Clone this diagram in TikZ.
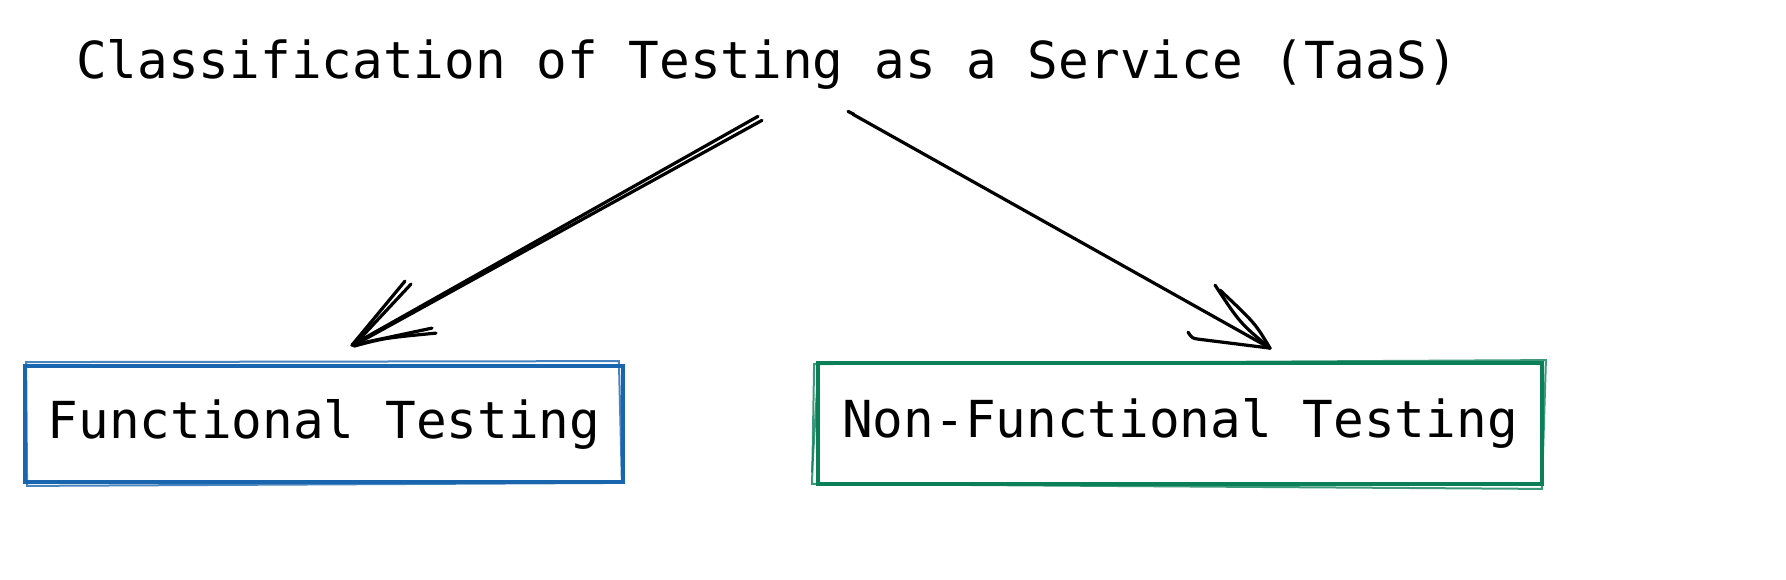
\documentclass[tikz,border=0pt]{standalone}
\usepackage{fontspec}
\setmonofont{DejaVu Sans Mono}
\definecolor{boxblue}{HTML}{1A66AE}
\definecolor{boxgreen}{HTML}{0B7F57}
\tikzset{
    txt/.style={font=\ttfamily\fontsize{25.5}{30}\selectfont, inner sep=0pt},
    sketchbox/.style={txt, draw=#1, line width=1.9pt, line cap=round},
    rough/.style={draw=#1, line width=1pt, line cap=round, opacity=0.8},
    pen/.style={line width=1.6pt, line cap=round},
}
\begin{document}
\begin{tikzpicture}[x=0.5pt,y=-0.5pt]
    \useasboundingbox (0,0) rectangle (1786,579);
    % title and the two classes
    \node[txt, anchor=base] (title) at (767,78) {Classification of Testing as a Service (TaaS)};
    \node[sketchbox=boxblue, minimum width=299pt, minimum height=58pt] (func) at (324,424) {Functional Testing};
    \node[sketchbox=boxgreen, minimum width=362pt, minimum height=60.5pt] (nonfunc) at (1180,423.5) {Non-Functional Testing};
    % second strokes of the hand drawn boxes
    \draw[rough=boxblue] ([shift={(3,-2)}]func.north west) -- ([shift={(-6,-3)}]func.north east)
        -- ([shift={(-3,-1)}]func.south east) -- ([shift={(4,2)}]func.south west) -- cycle;
    \draw[rough=boxgreen] ([shift={(-2,3)}]nonfunc.north west) -- ([shift={(2,-1)}]nonfunc.north east)
        -- ([shift={(-2,3)}]nonfunc.south east) -- ([shift={(-4,-2)}]nonfunc.south west) -- cycle;
    \draw[rough=boxgreen] ([shift={(2,10)}]nonfunc.north west) -- ([shift={(-4,-14)}]nonfunc.south west);
    % arrow ends
    \coordinate (fstart) at ([shift={(-9,27)}]title.south);
    \coordinate (ftip) at ([shift={(28,-19)}]func.north);
    \coordinate (nstart) at ([shift={(86,25)}]title.south);
    \coordinate (ntip) at ([shift={(90,-13)}]nonfunc.north);
    % left arrow
    \draw[pen] (fstart) -- (ftip);
    \draw[pen] ([shift={(4,4)}]fstart) -- ([shift={(4,-1)}]ftip);
    \draw[pen] (ftip) -- ++(53,-64);
    \draw[pen] ([shift={(3,-1)}]ftip) -- ++(56,-60);
    \draw[pen] (ftip) -- ++(80,-17);
    \draw[pen] ([shift={(2,1)}]ftip) .. controls ++(30,-8) .. ++(82,-13);
    % right arrow
    \draw[pen] (nstart) -- (ntip);
    \draw[pen] ([shift={(-5,-3)}]nstart) -- ++(6,3);
    \draw[pen] (ntip) .. controls ++(-30,-25) .. ++(-55,-63);
    \draw[pen] (ntip) .. controls ++(-15,-25) .. ++(-50,-58);
    \draw[pen] (ntip) -- ++(-72,-9) .. controls ++(-6,-1) .. ++(-10,-7);
\end{tikzpicture}
\end{document}
